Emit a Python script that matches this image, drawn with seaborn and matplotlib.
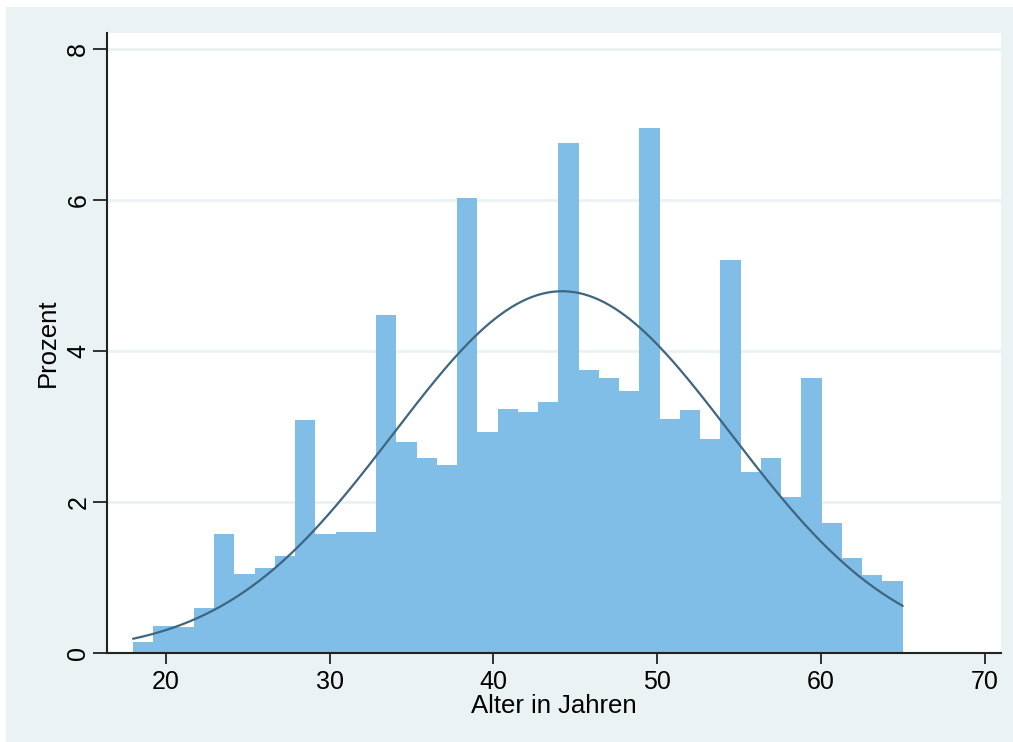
import numpy as np
import pandas as pd
import matplotlib
matplotlib.use('Agg')
import matplotlib.pyplot as plt
from matplotlib.patches import Rectangle
import seaborn as sns

# histogram: age range and percent per bin (38 bins from 18 to 65)
age_min = 18
age_max = 65
n_bins = 38
percent = [0.15, 0.36, 0.34, 0.59, 1.57, 1.05, 1.13, 1.29, 3.08, 1.57,
           1.60, 1.60, 4.47, 2.79, 2.58, 2.49, 6.03, 2.93, 3.23, 3.19,
           3.33, 6.75, 3.75, 3.64, 3.47, 6.95, 3.10, 3.22, 2.83, 5.21,
           2.40, 2.58, 2.06, 3.64, 1.72, 1.26, 1.03, 0.95]

# fitted normal overlay
curve_mean = 44.2
curve_sd = 10.3

x_ticks = [20, 30, 40, 50, 60, 70]
y_ticks = [0, 2, 4, 6, 8]

edges = np.linspace(age_min, age_max, n_bins + 1)
width = edges[1] - edges[0]
mids = (edges[:-1] + edges[1:]) / 2
hist_df = pd.DataFrame({'alter': mids, 'prozent': percent})

xs = np.linspace(age_min, age_max, 300)
ys = 100 * width * np.exp(-(xs - curve_mean) ** 2 / (2 * curve_sd ** 2)) / (curve_sd * np.sqrt(2 * np.pi))
curve_df = pd.DataFrame({'alter': xs, 'dichte': ys})

sns.set_style('white')
plt.rcParams['font.family'] = ['Liberation Sans', 'DejaVu Sans']
plt.rcParams['text.color'] = 'black'
plt.rcParams['axes.labelcolor'] = 'black'

bg = '#EAF2F3'
fig = plt.figure(figsize=(10.13, 7.42), dpi=100, facecolor='white')
fig.patches.append(Rectangle((6 / 1013, 0), 1, 1 - 7 / 742,
                             transform=fig.transFigure, facecolor=bg,
                             edgecolor='none', zorder=-5))
ax = fig.add_axes([107 / 1013, (742 - 653) / 742, (1001 - 107) / 1013, (653 - 33) / 742])
ax.set_facecolor('white')

sns.histplot(data=hist_df, x='alter', weights='prozent', bins=n_bins,
             binrange=(age_min, age_max), stat='count',
             color='#80BDE7', alpha=1, edgecolor='none', linewidth=0, ax=ax, zorder=2)
sns.lineplot(data=curve_df, x='alter', y='dichte', color='#3E6680', linewidth=1.6,
             ax=ax, zorder=3)

ax.set_xlim(16.41, 71.0)
ax.set_ylim(0, 8.21)
ax.set_xticks(x_ticks)
ax.set_yticks(y_ticks)
for v in y_ticks[1:]:
    ax.axhline(v, color=bg, linewidth=2, zorder=1)

ax.set_xticklabels([str(t) for t in x_ticks], fontsize=18)
ax.set_yticklabels([str(t) for t in y_ticks], fontsize=18, rotation=90, va='center')
ax.tick_params(axis='x', bottom=True, direction='out', length=8, width=1.3,
               color='#222222', labelcolor='black', pad=4)
ax.tick_params(axis='y', left=True, direction='out', length=10, width=1.3,
               color='#222222', labelcolor='black', pad=2)
ax.set_xlabel('Alter in Jahren', fontsize=18.5, labelpad=0)
ax.set_ylabel('Prozent', fontsize=18.5, labelpad=5)

for side in ['top', 'right']:
    ax.spines[side].set_visible(False)
for side in ['left', 'bottom']:
    ax.spines[side].set_color('#222222')
    ax.spines[side].set_linewidth(1.5)

fig.savefig('out.png', dpi=100, facecolor=fig.get_facecolor())
